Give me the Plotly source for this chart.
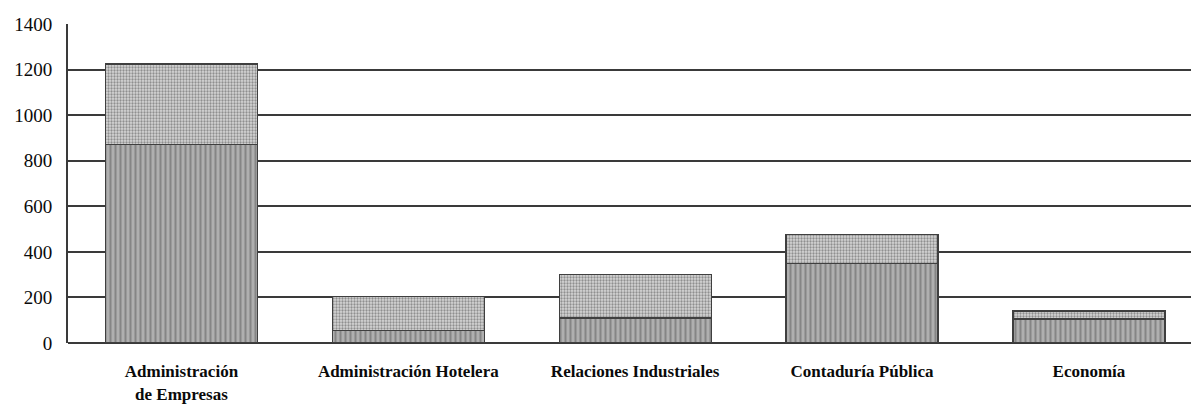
import plotly.graph_objects as go

# Carreras y matrícula por segmento (apilado)
carreras = [
    "Administración<br>de Empresas",
    "Administración Hotelera",
    "Relaciones Industriales",
    "Contaduría Pública",
    "Economía",
]
segmento_base = [870, 55, 110, 350, 105]
segmento_sup = [355, 150, 190, 125, 35]

y_ticks = [0, 200, 400, 600, 800, 1000, 1200, 1400]

fig = go.Figure()

fig.add_trace(go.Bar(
    x=carreras,
    y=segmento_base,
    marker=dict(
        color="#a5a5a5",
        line=dict(color="#3f3f3f", width=1.3),
        pattern=dict(shape="|", bgcolor="#afafaf", fgcolor="#858585",
                     size=5, solidity=0.4, fillmode="replace"),
    ),
    showlegend=False,
))
fig.add_trace(go.Bar(
    x=carreras,
    y=segmento_sup,
    marker=dict(
        color="#d0d0d0",
        line=dict(color="#3f3f3f", width=1.3),
        pattern=dict(shape=".", bgcolor="#d6d6d6", fgcolor="#8f8f8f",
                     size=3, solidity=0.45, fillmode="replace"),
    ),
    showlegend=False,
))

fig.update_layout(
    barmode="stack",
    bargap=0.33,
    width=1191,
    height=410,
    margin=dict(l=68, r=0, t=24, b=67),
    paper_bgcolor="white",
    plot_bgcolor="white",
    font=dict(family="Liberation Serif", color="#111"),
    xaxis=dict(
        range=[-0.5, 4.45],
        showgrid=False,
        showline=False,
        ticks="outside",
        ticklen=13,
        tickcolor="rgba(0,0,0,0)",
        tickfont=dict(family="Liberation Serif", size=17, color="#0a0a0a", weight="bold"),
        tickangle=0,
    ),
    yaxis=dict(
        range=[0, 1400],
        tickvals=y_ticks,
        ticktext=[str(v) for v in y_ticks],
        showgrid=True,
        gridcolor="#3a3a3a",
        gridwidth=1.7,
        showline=True,
        linecolor="#3a3a3a",
        linewidth=1.7,
        zeroline=True,
        zerolinecolor="#3a3a3a",
        zerolinewidth=1.7,
        ticks="",
        ticklabelstandoff=10,
        tickfont=dict(family="Liberation Serif", size=19, color="#0a0a0a"),
    ),
)

fig.write_html("out.html")
